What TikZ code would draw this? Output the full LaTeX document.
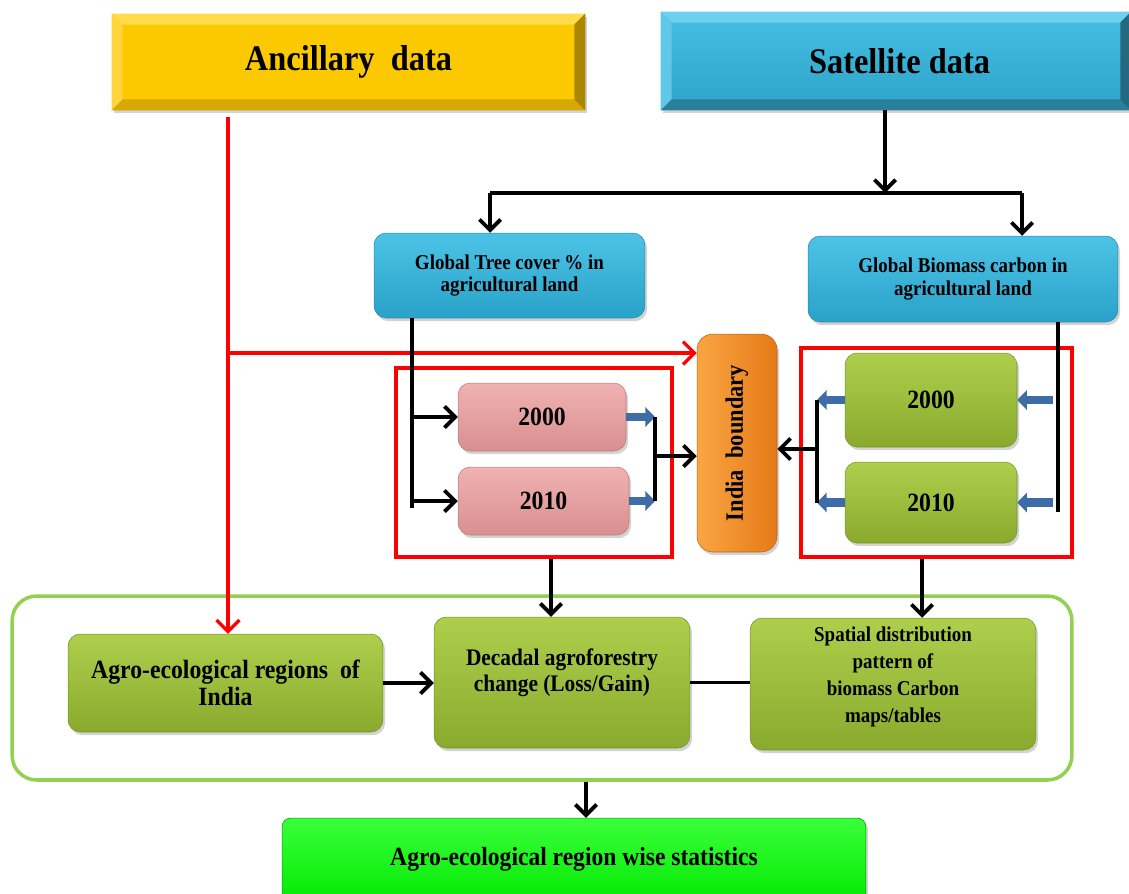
\documentclass[tikz,border=0pt]{standalone}
\usepackage{fontspec}
\setmainfont{Liberation Serif}[FakeStretch=0.9]
\usetikzlibrary{arrows.meta,shadows,calc}
\definecolor{ancFace}{HTML}{FCC900}
\definecolor{ancTop}{HTML}{FEDC4A}
\definecolor{ancLeft}{HTML}{FDD43A}
\definecolor{ancBot}{HTML}{D6A800}
\definecolor{ancRight}{HTML}{A98700}
\definecolor{satTopC}{HTML}{44C0E4}
\definecolor{satBotC}{HTML}{2DA3C8}
\definecolor{satTop}{HTML}{6CD0EE}
\definecolor{satLeft}{HTML}{5FC8E8}
\definecolor{satBot}{HTML}{2A809C}
\definecolor{satRight}{HTML}{236A80}
\definecolor{cyT}{HTML}{4CC3E6}
\definecolor{cyB}{HTML}{2AA2C9}
\definecolor{pkT}{HTML}{F0B2B2}
\definecolor{pkB}{HTML}{D98F8F}
\definecolor{grT}{HTML}{AECF4C}
\definecolor{grB}{HTML}{8AAA2E}
\definecolor{orL}{HTML}{FAA543}
\definecolor{orR}{HTML}{E57A17}
\definecolor{stT}{HTML}{3AFF3A}
\definecolor{stB}{HTML}{00E800}
\definecolor{outerG}{HTML}{92D050}
\definecolor{blueArr}{HTML}{3E6CA6}
\definecolor{redL}{HTML}{FF0000}
\newcommand{\bevelize}[5]{%
  \fill[#2] (#1.north west) -- (#1.north east) -- ([shift={(-11,11)}]#1.north east) -- ([shift={(11,11)}]#1.north west) -- cycle;
  \fill[#3] (#1.north west) -- ([shift={(11,11)}]#1.north west) -- ([shift={(11,-11)}]#1.south west) -- (#1.south west) -- cycle;
  \fill[#4] (#1.south west) -- ([shift={(11,-11)}]#1.south west) -- ([shift={(-11,-11)}]#1.south east) -- (#1.south east) -- cycle;
  \fill[#5] (#1.south east) -- ([shift={(-11,-11)}]#1.south east) -- ([shift={(-11,11)}]#1.north east) -- (#1.north east) -- cycle;
}
\begin{document}
\begin{tikzpicture}[x=0.02cm,y=-0.02cm,
  shad/.style={drop shadow={opacity=0.35,shadow xshift=1.2pt,shadow yshift=-1.8pt}},
  bevbox/.style={rectangle,inner sep=0pt,shad,font=\fontsize{20.5}{24}\selectfont\bfseries},
  rbox/.style={rectangle,rounded corners=7pt,inner sep=2pt,align=center,shad},
  cybox/.style={rbox,top color=cyT,bottom color=cyB,draw=cyB!85!black,line width=0.3pt,font=\fontsize{12}{13}\selectfont\bfseries},
  pkbox/.style={rbox,top color=pkT,bottom color=pkB,draw=pkB!85!black,line width=0.3pt,font=\fontsize{15}{17}\selectfont\bfseries},
  grbox/.style={rbox,top color=grT,bottom color=grB,draw=grB!85!black,line width=0.3pt,font=\fontsize{15}{17}\selectfont\bfseries},
  orbox/.style={rbox,rounded corners=9pt,left color=orL,right color=orR,draw=orR!80!black,line width=0.3pt,font=\fontsize{14.2}{16}\selectfont\bfseries},
  stbox/.style={rbox,rounded corners=5pt,top color=stT,bottom color=stB,draw=green!60!black,line width=0.3pt,font=\fontsize{14.9}{17}\selectfont\bfseries},
  redbox/.style={rectangle,draw=redL,line width=2pt,inner sep=0pt},
  txt/.style={align=center,inner sep=0pt},
  blk/.style={line width=2.2pt},
  arr/.style={line width=2.2pt,-{Straight Barb[length=6pt,width=12pt]}},
  redln/.style={draw=redL,line width=1.9pt},
  redarr/.style={draw=redL,line width=1.9pt,-{Straight Barb[length=6.5pt,width=13pt]}},
  bluearr/.style={draw=blueArr,line width=5pt,-{Triangle[length=5.5pt,width=11pt]}}
]
\useasboundingbox (0,0) rectangle (1129,893);
\clip (0,0) rectangle (1129,893);

% top beveled boxes
\node[bevbox,fill=ancFace,minimum width=9.46cm,minimum height=1.92cm] (anc) at (348.5,62) {};
\bevelize{anc}{ancTop}{ancLeft}{ancBot}{ancRight}
\node[txt,font=\fontsize{20.5}{24}\selectfont\bfseries] (ancT) at (anc.center) {Ancillary\ \ data};

\node[bevbox,top color=satTopC,bottom color=satBotC,minimum width=9.40cm,minimum height=1.96cm] (sat) at (896,61) {};
\bevelize{sat}{satTop}{satLeft}{satBot}{satRight}
\node[txt,font=\fontsize{20.5}{24}\selectfont\bfseries] (satT) at ([xshift=2pt]sat.center) {Satellite data};

% outer green frame
\node[rectangle,rounded corners=14pt,draw=outerG,line width=2pt,minimum width=21.2cm,minimum height=3.68cm] (outer) at (542,688) {};

% red frames
\node[redbox,minimum width=5.52cm,minimum height=3.78cm] (redL) at (534,462.5) {};
\node[redbox,minimum width=5.42cm,minimum height=4.18cm] (redR) at (936.5,452.5) {};

% source boxes
\node[cybox,minimum width=5.42cm,minimum height=1.70cm] (tree) at (509.5,275.5) {Global Tree cover \% in\\agricultural land};
\node[cybox,minimum width=6.20cm,minimum height=1.72cm] (bio) at (963,279) {Global Biomass carbon in\\agricultural land};

% India boundary
\node[orbox,minimum width=1.60cm,minimum height=4.36cm] (india) at (737,443) {\rotatebox{90}{India\ \ boundary}};

% year boxes
\node[pkbox,minimum width=3.36cm,minimum height=1.36cm] (p2000) at (542,417) {2000};
\node[pkbox,minimum width=3.42cm,minimum height=1.36cm] (p2010) at (543.5,501) {2010};
\node[grbox,minimum width=3.44cm,minimum height=1.88cm] (g2000) at (931,400) {2000};
\node[grbox,minimum width=3.44cm,minimum height=1.62cm] (g2010) at (931,502.5) {2010};

% lower boxes
\node[grbox,minimum width=6.30cm,minimum height=1.96cm,font=\fontsize{15}{15.5}\selectfont\bfseries] (agro) at (225.5,683) {Agro-ecological regions\ \ of\\India};
\node[grbox,minimum width=5.12cm,minimum height=2.62cm] (dec) at (562,682.5) {};
\node[txt,font=\fontsize{13.5}{14.8}\selectfont\bfseries] (decT) at ([yshift=5.4pt]dec.center) {Decadal agroforestry\\change (Loss/Gain)};
\node[grbox,minimum width=5.72cm,minimum height=2.64cm] (spat) at (893,684) {};
\node[txt,font=\fontsize{12}{15.2}\selectfont\bfseries] (spatT) at ([yshift=4pt]spat.center) {Spatial distribution\\pattern of\\biomass Carbon\\maps/tables};
\node[stbox,minimum width=11.68cm,minimum height=1.80cm] (stat) at (574,863) {};
\node[txt,font=\fontsize{14.9}{17}\selectfont\bfseries] (statT) at (574,859) {Agro-ecological region wise statistics};

% coordinates
\coordinate (busC) at (885,193);
\coordinate (busL) at (490,193);
\coordinate (busR) at (1022,193);
\coordinate (tl) at (412,508);
\coordinate (jl) at (655,456);
\coordinate (br) at (1058,512);
\coordinate (jr) at (817,449);
\coordinate (rj) at (228,353);
\coordinate (dl) at (551,600);
\coordinate (dr) at (922,600);
\coordinate (sc) at (586,800);

% satellite branch
\draw[arr] (sat.south -| busC) -- (busC);
\draw[blk] (busL) -- (busR);
\draw[arr] (busL) -- (busL |- tree.north);
\draw[arr] (busR) -- (busR |- bio.north);

% red ancillary lines
\draw[redln] ([yshift=-4pt]anc.south -| rj) -- (rj);
\draw[redarr] (rj) -- (rj |- agro.north);
\draw[redarr] (rj) -- (rj -| india.west);

% tree cover side
\draw[blk] (tree.south -| tl) -- (tl);
\draw[arr] (tl |- p2000.west) -- (p2000.west);
\draw[arr] (tl |- p2010.west) -- (p2010.west);
\draw[bluearr] (p2000.east) -- (p2000.east -| jl);
\draw[bluearr] (p2010.east) -- (p2010.east -| jl);
\draw[blk] (jl |- p2000.east) -- (jl |- p2010.east);
\draw[arr] (jl) -- (jl -| india.west);

% biomass side
\draw[blk] (bio.south -| br) -- (br);
\draw[bluearr] ([xshift=-3pt]br |- g2000.east) -- (g2000.east);
\draw[bluearr] ([xshift=-3pt]br |- g2010.east) -- (g2010.east);
\draw[bluearr] (g2000.west) -- (g2000.west -| jr);
\draw[bluearr] (g2010.west) -- (g2010.west -| jr);
\draw[blk] (jr |- g2000.west) -- (jr |- g2010.west);
\draw[arr] (jr) -- (jr -| india.east);

% to lower boxes
\draw[arr] (redL.south -| dl) -- (dl |- dec.north);
\draw[arr] (redR.south -| dr) -- (dr |- spat.north);
\draw[arr] (agro.east) -- (agro.east -| dec.west);
\draw[blk] (dec.east) -- (dec.east -| spat.west);
\draw[arr] (outer.south -| sc) -- (sc |- stat.north);
\end{tikzpicture}
\end{document}
